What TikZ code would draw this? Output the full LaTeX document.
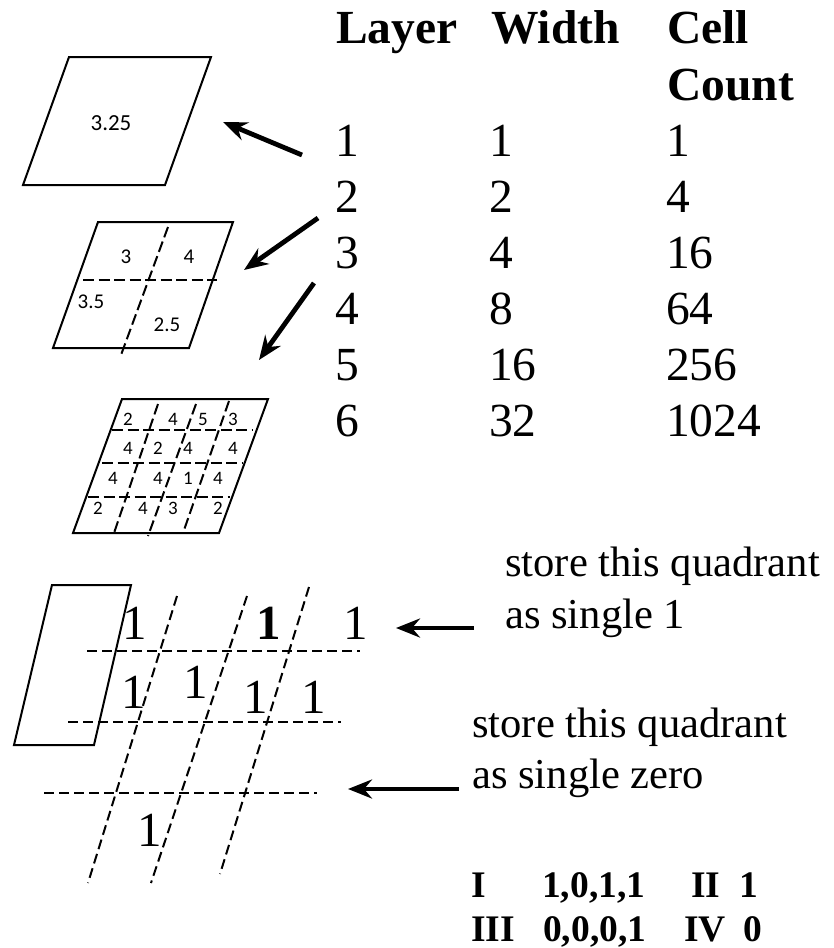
\documentclass[tikz,border=0pt]{standalone}
\usepackage{fontspec}
\setmainfont{Liberation Serif}
\newfontfamily\calibrifont{Carlito}
\usetikzlibrary{arrows.meta}
\tikzset{
  x=1pt,y=-1pt,
  tabhead/.style={anchor=base west,inner sep=0pt,font=\fontsize{47.5}{52}\selectfont\bfseries},
  tabcell/.style={anchor=base west,inner sep=0pt,font=\fontsize{47.5}{52}\selectfont},
  note/.style={anchor=base west,inner sep=0pt,font=\fontsize{42.6}{47}\selectfont},
  code/.style={anchor=base west,inner sep=0pt,font=\fontsize{37.5}{42}\selectfont\bfseries},
  big/.style={inner sep=0pt,font=\fontsize{49}{54}\selectfont},
  bigb/.style={inner sep=0pt,font=\fontsize{49}{54}\selectfont\bfseries},
  cella/.style={inner sep=0pt,font=\fontsize{23}{26}\calibrifont},
  cellb/.style={inner sep=0pt,font=\fontsize{21}{24}\calibrifont},
  cellc/.style={inner sep=0pt,font=\fontsize{19}{22}\calibrifont},
  tile/.style={draw=black,line width=2pt,line join=miter},
  fine/.style={draw=black,line width=2pt,dash pattern=on 11pt off 4.5pt},
  finer/.style={draw=black,line width=2pt,dash pattern=on 10pt off 5pt},
  pointer/.style={draw=black,line width=4.8pt,-{Stealth[length=24pt,width=19pt,inset=8pt]}},
}
\begin{document}
\begin{tikzpicture}
\useasboundingbox (0,0) rectangle (834,948);
% table
\node[tabhead] (h1) at (336,43) {Layer};
\node[tabhead] (h2) at (491,43) {Width};
\node[tabhead] (h3) at (667,43) {Cell};
\node[tabhead] (h4) at (667,100) {Count};
\node[tabcell] (a1) at (335,156) {1};
\node[tabcell] (a2) at (335,212) {2};
\node[tabcell] (a3) at (335,268) {3};
\node[tabcell] (a4) at (335,324) {4};
\node[tabcell] (a5) at (335,380) {5};
\node[tabcell] (a6) at (335,436) {6};
\node[tabcell] (b1) at (489,156) {1};
\node[tabcell] (b2) at (489,212) {2};
\node[tabcell] (b3) at (489,268) {4};
\node[tabcell] (b4) at (489,324) {8};
\node[tabcell] (b5) at (489,380) {16};
\node[tabcell] (b6) at (489,436) {32};
\node[tabcell] (c1) at (666,156) {1};
\node[tabcell] (c2) at (666,212) {4};
\node[tabcell] (c3) at (666,268) {16};
\node[tabcell] (c4) at (666,324) {64};
\node[tabcell] (c5) at (666,380) {256};
\node[tabcell] (c6) at (666,436) {1024};
% tile 1
\draw[tile] (69,57) -- (211,57) -- (165,185) -- (23,185) -- cycle;
\node[cella] (t1) at (111,123) {3.25};
% tile 2
\draw[tile] (98,222) -- (233,222) -- (189,348) -- (53,348) -- cycle;
\draw[fine] (83,280) -- (217,280);
\draw[fine] (168,227) -- (121,355);
\node[cellb] (t2a) at (126,257) {3};
\node[cellb] (t2b) at (189,257) {4};
\node[cellb] (t2c) at (91,302) {3.5};
\node[cellb] (t2d) at (167,325) {2.5};
% tile 3
\draw[tile] (122,399) -- (268,399) -- (219,533) -- (73,533) -- cycle;
\draw[fine] (112,430) -- (253,430);
\draw[fine] (102,463) -- (243,463);
\draw[fine] (88,497) -- (230,497);
\draw[fine] (158,404) -- (113,536);
\draw[fine] (196,404) -- (148,536);
\draw[fine] (229,401) -- (183,533);
\foreach \nm/\px/\py/\tx in {
 p1/128/419/2,p2/173/419/4,p3/203/419/5,p4/233/419/3,
 p5/128/448/4,p6/158/448/2,p7/188/448/4,p8/233/448/4,
 p9/113/478/4,p10/158/478/4,p11/188/478/1,p12/218/478/4,
 p13/98/508/2,p14/143/508/4,p15/173/508/3,p16/218/508/2}
  \node[cellc] (\nm) at (\px,\py) {\tx};
% arrows from table to tiles
\coordinate (s1) at (302,155); \coordinate (e1) at (223,122);
\coordinate (s2) at (318,218); \coordinate (e2) at (244,270);
\coordinate (s3) at (314,283); \coordinate (e3) at (259,360);
\draw[pointer] (s1) -- (e1);
\draw[pointer] (s2) -- (e2);
\draw[pointer] (s3) -- (e3);
% lower figure
\draw[tile] (52,585) -- (131,585) -- (94,745) -- (14,745) -- cycle;
\draw[finer] (87,651) -- (360,651);
\draw[finer] (68,722) -- (341,722);
\draw[finer] (44,793) -- (317,793);
\draw[finer] (177,596) -- (88,883);
\draw[finer] (247,596) -- (151,883);
\draw[finer] (309,587) -- (220,874);
\node[big] (q1) at (135,623) {1};
\node[bigb] (q2) at (269,623) {1};
\node[big] (q3) at (356,623) {1};
\node[big] (q4) at (134,692) {1};
\node[big] (q5) at (196,682) {1};
\node[big] (q6) at (256,697) {1};
\node[big] (q7) at (314,697) {1};
\node[big] (q8) at (150,830) {1};
% notes
\node[note] (n1) at (505,576) {store this quadrant};
\node[note] (n2) at (505,628) {as single 1};
\node[note] (n3) at (472,737) {store this quadrant};
\node[note] (n4) at (472,788) {as single zero};
\coordinate (s4) at (474,628); \coordinate (e4) at (396,628);
\coordinate (s5) at (459,789); \coordinate (e5) at (348,789);
\draw[pointer] (s4) -- (e4);
\draw[pointer] (s5) -- (e5);
% codes
\node[code] (k1) at (471,897) {I};
\node[code] (k2) at (542,897) {1,0,1,1};
\node[code] (k3) at (691,897) {II};
\node[code] (k4) at (739,897) {1};
\node[code] (k5) at (471,941) {III};
\node[code] (k6) at (543,941) {0,0,0,1};
\node[code] (k7) at (684,941) {IV};
\node[code] (k8) at (743,941) {0};
\end{tikzpicture}
\end{document}
